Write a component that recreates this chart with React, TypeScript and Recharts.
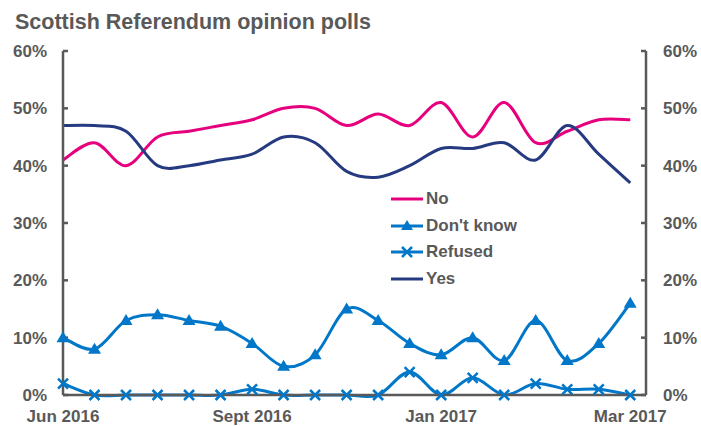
import React from 'react';
import { LineChart, Line, XAxis, YAxis } from 'recharts';

// poll index 0..18, values in %
const noVals = [41, 44, 40, 45, 46, 47, 48, 50, 50, 47, 49, 47, 51, 45, 51, 44, 46, 48, 48];
const dontKnowVals = [10, 8, 13, 14, 13, 12, 9, 5, 7, 15, 13, 9, 7, 10, 6, 13, 6, 9, 16];
const refusedVals = [2, 0, 0, 0, 0, 0, 1, 0, 0, 0, 0, 4, 0, 3, 0, 2, 1, 1, 0];
const yesVals = [47, 47, 46, 40, 40, 41, 42, 45, 44, 39, 38, 40, 43, 43, 44, 41, 47, 42, 37];

const xTickIdx = [0, 6, 12, 18];
const xTickLabels = ['Jun 2016', 'Sept 2016', 'Jan 2017', 'Mar 2017'];
const yTicks = [0, 10, 20, 30, 40, 50, 60];

const data = noVals.map((v, i) => ({
  i,
  no: v,
  dk: dontKnowVals[i],
  ref: refusedVals[i],
  yes: yesVals[i],
}));

const PINK = '#E6007E';
const BLUE = '#0077C8';
const NAVY = '#253A80';
const GREY = '#595959';
const FONT = '"Liberation Sans", Arial, sans-serif';

// Excel-like smoothed line (catmull-rom style bezier)
const excelSmooth = (context: any) => {
  let pts: number[][] = [];
  return {
    areaStart() {},
    areaEnd() {},
    lineStart() {
      pts = [];
    },
    point(x: number, y: number) {
      pts.push([+x, +y]);
    },
    lineEnd() {
      const n = pts.length;
      if (!n) return;
      context.moveTo(pts[0][0], pts[0][1]);
      for (let k = 0; k < n - 1; k++) {
        const p0 = pts[k - 1] || pts[k];
        const p1 = pts[k];
        const p2 = pts[k + 1];
        const p3 = pts[k + 2] || p2;
        context.bezierCurveTo(
          p1[0] + (p2[0] - p0[0]) / 6,
          p1[1] + (p2[1] - p0[1]) / 6,
          p2[0] - (p3[0] - p1[0]) / 6,
          p2[1] - (p3[1] - p1[1]) / 6,
          p2[0],
          p2[1]
        );
      }
    },
  };
};

const Triangle = (props: any) => {
  const { cx, cy, index } = props;
  if (cx == null || cy == null) return <g key={`t-${index}`} />;
  return (
    <path
      key={`t-${index}`}
      d={`M${cx},${cy - 6.5} L${cx + 6.5},${cy + 4.5} L${cx - 6.5},${cy + 4.5} Z`}
      fill={BLUE}
    />
  );
};

const Cross = (props: any) => {
  const { cx, cy, index } = props;
  if (cx == null || cy == null) return <g key={`c-${index}`} />;
  return (
    <path
      key={`c-${index}`}
      d={`M${cx - 5},${cy - 5} L${cx + 5},${cy + 5} M${cx - 5},${cy + 5} L${cx + 5},${cy - 5}`}
      stroke={BLUE}
      strokeWidth={2.5}
      fill="none"
    />
  );
};

const legendItems = [
  { name: 'No', color: PINK, marker: 'none' },
  { name: "Don't know", color: BLUE, marker: 'triangle' },
  { name: 'Refused', color: BLUE, marker: 'cross' },
  { name: 'Yes', color: NAVY, marker: 'none' },
];

const LegendBox = () => (
  <div
    style={{
      position: 'absolute',
      left: 391,
      top: 186,
      fontFamily: FONT,
      fontWeight: 'bold',
      fontSize: 17,
      color: GREY,
    }}
  >
    {legendItems.map((it) => (
      <div key={it.name} style={{ display: 'flex', alignItems: 'center', height: 26.5 }}>
        <svg width={32} height={14} style={{ marginRight: 3 }}>
          <line x1={0} y1={7} x2={32} y2={7} stroke={it.color} strokeWidth={3} />
          {it.marker === 'triangle' && <path d="M16,1 L22,11 L10,11 Z" fill={it.color} />}
          {it.marker === 'cross' && (
            <path d="M11,2 L21,12 M11,12 L21,2" stroke={it.color} strokeWidth={2.5} />
          )}
        </svg>
        <span>{it.name}</span>
      </div>
    ))}
  </div>
);

const tickStyle = { fill: GREY, fontSize: 17, fontWeight: 'bold', fontFamily: FONT };

export default function App() {
  return (
    <div style={{ position: 'absolute', left: 0, top: 0, width: 701, height: 426, background: '#fff' }}>
      <div
        style={{
          position: 'absolute',
          left: 15,
          top: 10,
          fontFamily: FONT,
          fontWeight: 'bold',
          fontSize: 21.5,
          color: GREY,
          whiteSpace: 'nowrap',
        }}
      >
        Scottish Referendum opinion polls
      </div>
      <LineChart width={701} height={426} data={data} margin={{ top: 51, right: 0, bottom: 0, left: 0 }}>
        <XAxis
          dataKey="i"
          type="number"
          domain={[0, 18.5]}
          ticks={xTickIdx}
          tickFormatter={(v: number) => xTickLabels[xTickIdx.indexOf(v)] ?? ''}
          height={31}
          stroke={GREY}
          strokeWidth={2.5}
          tickLine={false}
          tickSize={0}
          tickMargin={15}
          tick={tickStyle}
          interval={0}
        />
        <YAxis
          yAxisId="left"
          orientation="left"
          domain={[0, 60]}
          ticks={yTicks}
          tickFormatter={(v: number) => `${v}%`}
          width={63}
          stroke={GREY}
          strokeWidth={2.5}
          tickSize={-5}
          tickMargin={21}
          tick={tickStyle}
          interval={0}
        />
        <YAxis
          yAxisId="right"
          orientation="right"
          domain={[0, 60]}
          ticks={yTicks}
          tickFormatter={(v: number) => `${v}%`}
          width={55}
          stroke={GREY}
          strokeWidth={2.5}
          tickSize={-5}
          tickMargin={22}
          tick={tickStyle}
          interval={0}
        />
        <Line yAxisId="left" dataKey="no" name="No" type={excelSmooth as any} stroke={PINK} strokeWidth={3} dot={false} isAnimationActive={false} />
        <Line yAxisId="left" dataKey="dk" name="Don't know" type={excelSmooth as any} stroke={BLUE} strokeWidth={3} dot={Triangle} isAnimationActive={false} />
        <Line yAxisId="left" dataKey="ref" name="Refused" type={excelSmooth as any} stroke={BLUE} strokeWidth={3} dot={Cross} isAnimationActive={false} />
        <Line yAxisId="right" dataKey="yes" name="Yes" type={excelSmooth as any} stroke={NAVY} strokeWidth={3} dot={false} isAnimationActive={false} />
      </LineChart>
      <LegendBox />
    </div>
  );
}
